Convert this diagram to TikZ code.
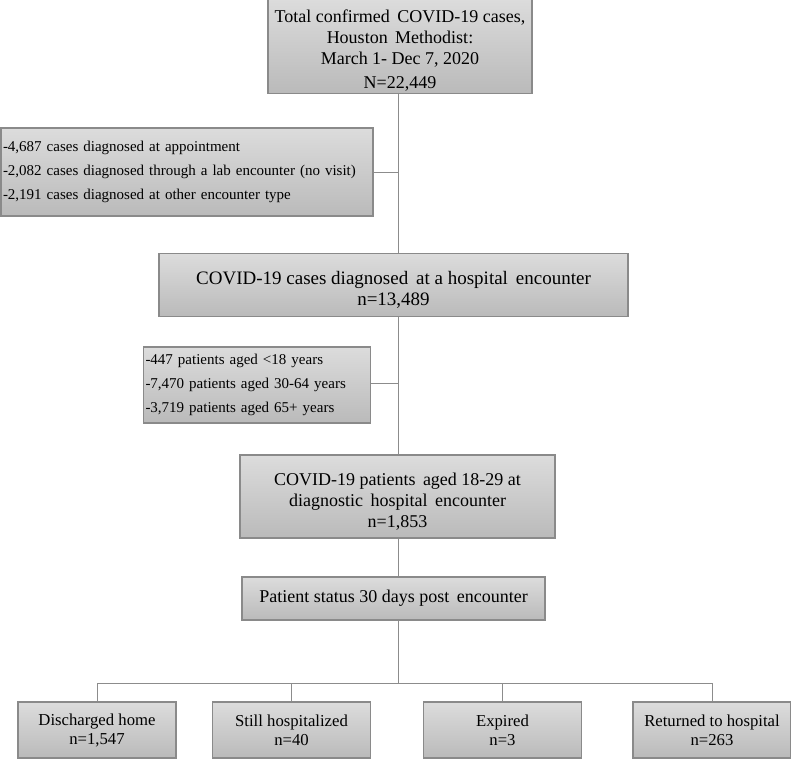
\documentclass[tikz,border=0pt]{standalone}
\usepackage{fontspec}
\setmainfont{Liberation Serif}
\usepackage{xcolor}
\usetikzlibrary{positioning,calc}

\definecolor{boxtop}{HTML}{DCDCDC}
\definecolor{boxbot}{HTML}{BABABA}
\definecolor{boxline}{HTML}{8A8A8A}
\definecolor{linkgray}{HTML}{8C8C8C}

\newcommand{\topstrut}{\rule{0pt}{22pt}}

\begin{document}
\begin{tikzpicture}[x=1pt, y=-1pt,
  flowbox/.style={draw=boxline, line width=1.4pt, top color=boxtop, bottom color=boxbot,
    align=center, inner sep=2pt, font=\fontsize{18}{21}\selectfont},
  exclbox/.style={flowbox, align=left, inner xsep=2pt, font=\fontsize{15}{24}\selectfont},
  outbox/.style={flowbox, minimum width=158pt, minimum height=56pt, font=\fontsize{16.7}{19}\selectfont},
  link/.style={draw=linkgray, line width=1pt},
]
  \useasboundingbox (0,0) rectangle (791,760);

  % main flow
  \node[flowbox, minimum width=264pt, minimum height=90pt] (total) at (400,46)
    {\topstrut Total confirmed\, COVID-19 cases,\\ Houston\, Methodist:\\ March 1- Dec 7, 2020\\[3pt] N=22,449};
  \node[flowbox, minimum width=469pt, minimum height=63pt, font=\fontsize{19}{21}\selectfont] (hosp) at (393.5,285)
    {\topstrut COVID-19 cases diagnosed\, at a hospital\, encounter\\ n=13,489};
  \node[flowbox, minimum width=315pt, minimum height=83pt] (young) at (397.5,496.5)
    {\topstrut COVID-19 patients\, aged 18-29 at\\ diagnostic\, hospital\, encounter\\ n=1,853};
  \node[flowbox, minimum width=303pt, minimum height=43pt] (status) at (393.5,598.5)
    {Patient status 30 days post\, encounter};

  % exclusions
  \node[exclbox, text width=368pt, minimum height=88pt] (excl1) at (187,172)
    {-4,687 cases diagnosed at appointment\\
     -2,082 cases diagnosed through a lab encounter (no visit)\\
     -2,191 cases diagnosed at other encounter type};
  \node[exclbox, text width=223pt, minimum height=76pt] (excl2) at (257,385)
    {-447 patients aged <18 years\\
     -7,470 patients aged 30-64 years\\
     -3,719 patients aged 65+ years};

  % outcomes
  \node[outbox] (home) at (97,730) {Discharged home\\ n=1,547};
  \node[outbox] (still) at (291.5,730) {Still hospitalized\\ n=40};
  \node[outbox] (expired) at (502.5,730) {Expired\\ n=3};
  \node[outbox] (returned) at (712,730) {Returned to hospital\\ n=263};

  \coordinate (trunk) at (398,0);
  \coordinate (split) at (398,683);

  \draw[link] (total.south -| trunk) -- (hosp.north -| trunk);
  \draw[link] (excl1.east) -- (excl1.east -| trunk);
  \draw[link] (hosp.south -| trunk) -- (young.north -| trunk);
  \draw[link] ([yshift=2pt]excl2.east) -- ([yshift=2pt]excl2.east -| trunk);
  \draw[link] (young.south -| trunk) -- (status.north -| trunk);
  \draw[link] (status.south -| trunk) -- (split);
  \draw[link] (split -| home) -- (split -| returned);
  \foreach \n in {home, still, expired, returned}
    \draw[link] (split -| \n) -- (\n.north);
\end{tikzpicture}
\end{document}
